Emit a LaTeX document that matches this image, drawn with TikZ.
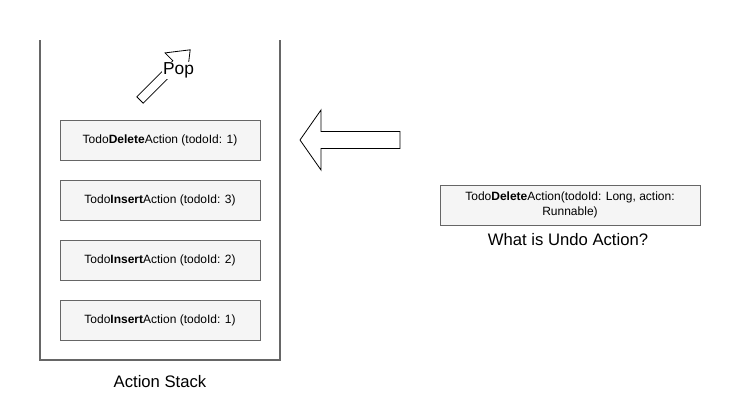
\documentclass[tikz,border=0pt]{standalone}
\usepackage{fontspec}
\setmainfont{Liberation Sans}
\definecolor{boxgray}{HTML}{F5F5F5}
\definecolor{linegray}{HTML}{666666}
\usepackage{tikz}
\usetikzlibrary{positioning, calc}
\tikzset{
	actionbox/.style={draw=linegray, fill=boxgray, line width=0.75pt,
			minimum width=150pt, minimum height=30pt, inner sep=2pt,
			font=\fontsize{9}{11}\selectfont}
}
\tikzset{
	bigtext/.style={font=\fontsize{12.5}{14}\selectfont}
}
\tikzset{
	blockarrow/.style={draw=black, line width=0.6pt, fill=white, line join=miter}
}

\begin{document}
\begin{tikzpicture}[x=0.75pt, y=-0.75pt]

			\useasboundingbox (0,0) rectangle (751,411);

			\begin{scope}
				\draw[linegray, line width=0.9pt] (40,40) -- (40,360) -- (280,360) -- (280,40);

				\node[actionbox] (sA) at (160,140) {Todo\textbf{Delete}Action (todoId: 1)};
				\node[actionbox] (sB) at (160,200) {Todo\textbf{Insert}Action (todoId: 3)};
				\node[actionbox] (sC) at (160,260) {Todo\textbf{Insert}Action (todoId: 2)};
				\node[actionbox] (sD) at (160,320) {Todo\textbf{Insert}Action (todoId: 1)};

				\node[bigtext] (stack) at (160,382) {Action Stack};
			\end{scope}

			\begin{scope}[shift={(140,100)}, rotate=45]
				\draw[blockarrow] (0,-4.5) -- (51,-4.5) -- (51,-15.6) -- (71,0)
					-- (51,15.6) -- (51,4.5) -- (0,4.5) -- cycle;
			\end{scope}
			\node[bigtext, font=\fontsize{13}{15}\selectfont, fill=white, inner sep=0.8pt] (pop) at (178.5,70.5) {Pop};

			\draw[blockarrow] (300,140) -- (321,110) -- (321,131.5) -- (400,131.5)
				-- (400,148.5) -- (321,148.5) -- (321,170) -- cycle;

			\begin{scope}
				\node[actionbox, minimum width=195pt, align=center] (undo) at (570,205)
					{Todo\textbf{Delete}Action(todoId: Long, action:\\Runnable)};
				\node[bigtext] (undolabel) at (568,240) {What is Undo Action?};
			\end{scope}

		\end{tikzpicture}
\end{document}
